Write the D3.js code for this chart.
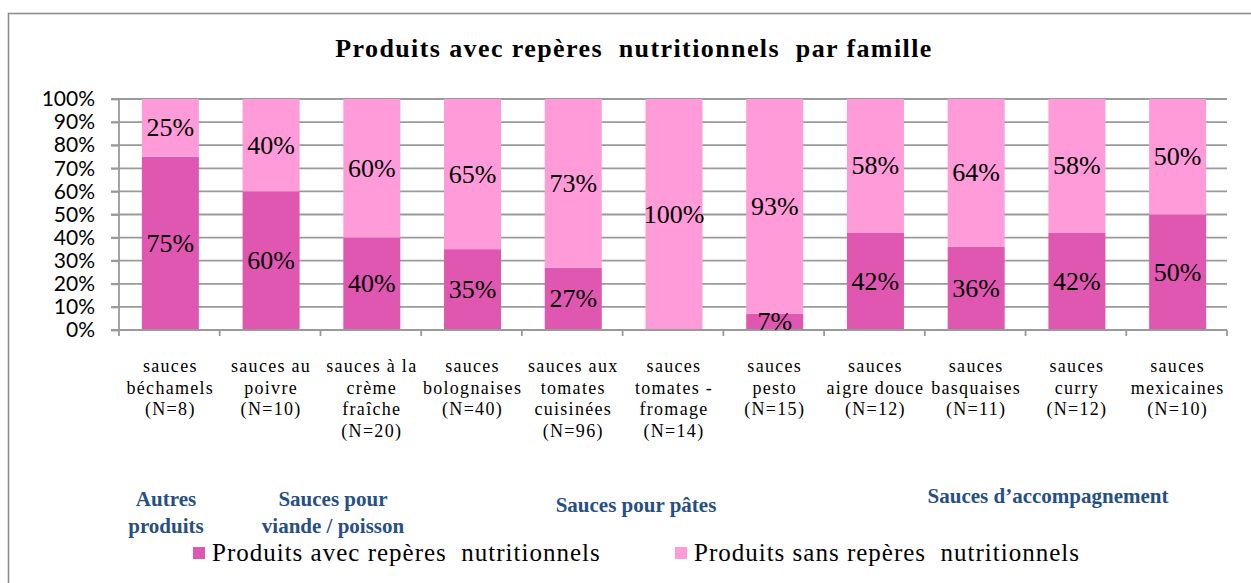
<!DOCTYPE html>
<html><head><meta charset="utf-8">
<script src="https://cdn.jsdelivr.net/npm/d3@7"></script>
<style>
body{margin:0;background:#fff;}
svg text{white-space:pre;}
</style></head>
<body>
<svg id="chart" width="1251" height="583"></svg>
<script>
const categories = [
  ["sauces","béchamels","(N=8)"],
  ["sauces au","poivre","(N=10)"],
  ["sauces à la","crème","fraîche","(N=20)"],
  ["sauces","bolognaises","(N=40)"],
  ["sauces aux","tomates","cuisinées","(N=96)"],
  ["sauces","tomates -","fromage","(N=14)"],
  ["sauces","pesto","(N=15)"],
  ["sauces","aigre douce","(N=12)"],
  ["sauces","basquaises","(N=11)"],
  ["sauces","curry","(N=12)"],
  ["sauces","mexicaines","(N=10)"]
];
const avecReperes = [75, 60, 40, 35, 27, 0, 7, 42, 36, 42, 50];
const sansReperes = [25, 40, 60, 65, 73, 100, 93, 58, 64, 58, 50];
const seriesNames = ["Produits avec repères  nutritionnels", "Produits sans repères  nutritionnels"];
const yTicks = [0,10,20,30,40,50,60,70,80,90,100];
const groups = [
  {lines:["Autres","produits"], from:0, to:0},
  {lines:["Sauces pour","viande / poisson"], from:1, to:1},
  {lines:["Sauces pour pâtes"], from:2, to:6},
  {lines:["Sauces d’accompagnement"], from:7, to:10}
];
const title = "Produits avec repères  nutritionnels  par famille";

const colors = ["#E057B1", "#FF9BD9"];
const svg = d3.select("#chart");

// frame
svg.append("rect").attr("x",8.5).attr("y",13.5).attr("width",1300).attr("height",700)
  .attr("fill","none").attr("stroke","#8e8e8e").attr("stroke-width",1.6);

const x = d3.scaleBand().domain(d3.range(categories.length)).range([119,1227])
  .paddingInner(0.434).paddingOuter(0.217);
const y = d3.scaleLinear().domain([0,100]).range([330,99]);

// gridlines
svg.append("g").selectAll("line").data(yTicks).join("line")
  .attr("x1",111).attr("x2",1227).attr("y1",d=>y(d)).attr("y2",d=>y(d))
  .attr("stroke","#9a9a9a").attr("stroke-width",1.8);

// y axis
const yAxis = svg.append("g").attr("transform","translate(119,0)")
  .call(d3.axisLeft(y).tickValues(yTicks).tickFormat(d=>d+"%").tickSize(8).tickPadding(16));
yAxis.select(".domain").attr("stroke","#9a9a9a").attr("stroke-width",1.8).attr("d","M0,99V330");
yAxis.selectAll(".tick line").attr("stroke","#9a9a9a").attr("stroke-width",1.8);
yAxis.selectAll("text").attr("font-family","Lato").attr("font-size",21).attr("fill","#000");

// bars
const stacks = categories.map((c,i)=>[[0,avecReperes[i]],[avecReperes[i],avecReperes[i]+sansReperes[i]]]);
const barG = svg.append("g");
[0,1].forEach(s=>{
  barG.selectAll(null).data(stacks).join("rect")
    .attr("x",(d,i)=>x(i)+1).attr("width",x.bandwidth())
    .attr("y",d=>y(d[s][1])).attr("height",d=>y(d[s][0])-y(d[s][1]))
    .attr("fill",colors[s]);
});

// x axis
const xAxisY = 330;
const xg = svg.append("g");
xg.append("line").attr("x1",119).attr("x2",1227).attr("y1",xAxisY).attr("y2",xAxisY)
  .attr("stroke","#9a9a9a").attr("stroke-width",1.8);
const bounds = d3.range(categories.length+1).map(i=> i<categories.length ? x(i)-x.step()*0.217 : 1227);
xg.selectAll(".xt").data(bounds).join("line").attr("class","xt")
  .attr("x1",d=>d).attr("x2",d=>d).attr("y1",xAxisY).attr("y2",xAxisY+6)
  .attr("stroke","#9a9a9a").attr("stroke-width",1.8);

// value labels
const lblG = svg.append("g").attr("font-family","Liberation Serif").attr("font-size",26).attr("text-anchor","middle");
[0,1].forEach(s=>{
  const vals = s===0 ? avecReperes : sansReperes;
  lblG.selectAll(null).data(stacks.map((d,i)=>({d,i})).filter(o=>vals[o.i]>0)).join("text")
    .attr("x",o=>x(o.i)+x.bandwidth()/2+1)
    .attr("y",o=>y((o.d[s][0]+o.d[s][1])/2)+8.5)
    .text(o=>vals[o.i]+"%");
});

// category labels
const catG = svg.append("g").attr("font-family","Liberation Serif").attr("font-size",18)
  .attr("text-anchor","middle").attr("letter-spacing",1.3);
categories.forEach((lines,i)=>{
  const cx = x(i)+x.bandwidth()/2+1;
  const t = catG.append("text").attr("x",cx).attr("y",372);
  lines.forEach((l,j)=>t.append("tspan").attr("x",cx).attr("y",372+j*21.7).text(l));
});

// group labels
const groupPos = [{cx:166,y:[506,533]},{cx:333,y:[506,533]},{cx:636,y:[512]},{cx:1048,y:[503]}];
const gG = svg.append("g").attr("font-family","Liberation Serif").attr("font-weight","bold")
  .attr("font-size",21).attr("fill","#264F86").attr("text-anchor","middle");
groups.forEach((g,k)=>{
  g.lines.forEach((l,j)=>gG.append("text").attr("x",groupPos[k].cx).attr("y",groupPos[k].y[j]).text(l));
});

// title
svg.append("text").attr("x",634).attr("y",57).attr("text-anchor","middle")
  .attr("font-family","Liberation Serif").attr("font-weight","bold").attr("font-size",26)
  .attr("letter-spacing",1.4)
  .text(title);

// legend
const legX = [193, 675];
seriesNames.forEach((n,s)=>{
  svg.append("rect").attr("x",legX[s]).attr("y",547).attr("width",12).attr("height",12).attr("fill",colors[s]);
  svg.append("text").attr("x",legX[s]+19).attr("y",561).attr("font-family","Liberation Serif")
    .attr("font-size",25).attr("letter-spacing",1).text(n);
});
</script>
</body></html>
